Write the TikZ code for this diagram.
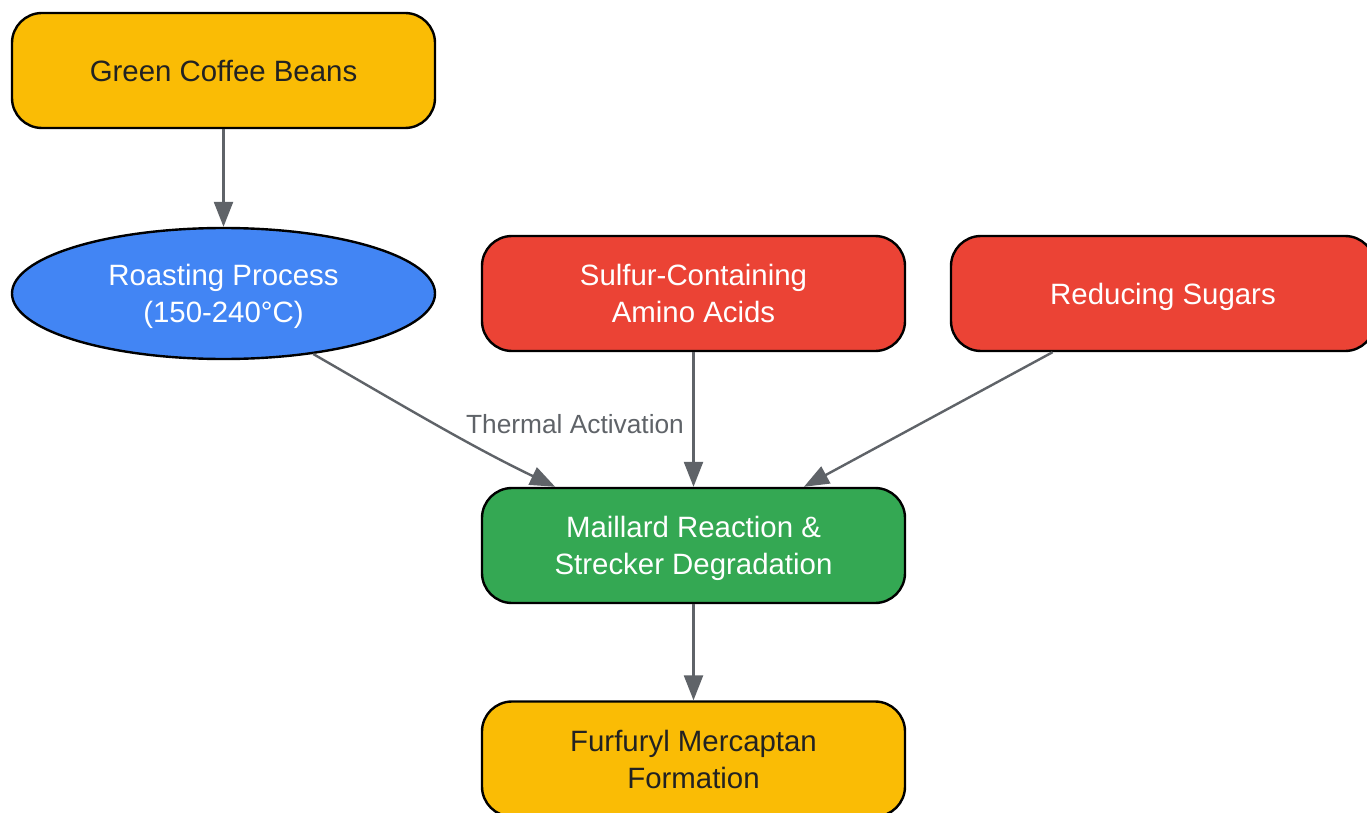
\documentclass[tikz,border=0pt]{standalone}
\usepackage{fontspec}
\setmainfont{Liberation Sans}
\usetikzlibrary{arrows.meta,shapes.geometric}
\definecolor{cyellow}{HTML}{FABC05}
\definecolor{cblue}{HTML}{4285F4}
\definecolor{cred}{HTML}{EB4335}
\definecolor{cgreen}{HTML}{34A853}
\definecolor{cedge}{HTML}{5F6368}
\definecolor{cdark}{HTML}{222222}
\tikzset{
  txt/.style={align=center, font=\fontsize{29.4}{37}\selectfont, inner sep=0pt},
  oneline/.style={text height=26pt, text depth=3.8pt},
  twoline/.style={text height=62pt, text depth=3.8pt},
  box/.style={txt, draw=black, line width=2.4pt, rounded corners=30pt,
    minimum width=423pt, minimum height=115pt},
  oval/.style={txt, draw=black, line width=2.4pt, ellipse,
    minimum width=423pt, minimum height=131pt},
  conn/.style={draw=cedge, line width=2.4pt, -{Triangle[length=25pt,width=19pt]}},
  lbl/.style={text=cedge, font=\fontsize{26.3}{30}\selectfont, inner sep=0pt}
}
\begin{document}
\begin{tikzpicture}[x=1pt,y=-1pt]
\useasboundingbox (0,0) rectangle (1367,813);
\clip (0,0) rectangle (1367,813);
\fill[white] (0,0) rectangle (1367,813);
\node[box, oneline, fill=cyellow, text=cdark] (green) at (223.5,70.5) {Green Coffee Beans};
\node[oval, twoline, fill=cblue, text=white] (roast) at (223.5,293.5) {Roasting Process\\(150-240°C)};
\node[box, twoline, fill=cred, text=white] (sulfur) at (693.5,293.5) {Sulfur-Containing\\Amino Acids};
\node[box, oneline, fill=cred, text=white, minimum width=424pt] (sugar) at (1163,293.5) {Reducing Sugars};
\node[box, twoline, fill=cgreen, text=white] (maill) at (693.5,545.5) {Maillard Reaction \&\\Strecker Degradation};
\node[box, twoline, fill=cyellow, text=cdark] (furf) at (693.5,759) {Furfuryl Mercaptan\\Formation};
\draw[conn] (green.south) -- (roast.north);
\draw[conn] (roast.-34) .. controls (400,404) and (470,446) .. (maill.157);
\node[lbl] (tlab) at (575,424) {Thermal Activation};
\draw[conn] (sulfur.south) -- (maill.north);
\draw[conn] (sugar.208.5) -- (maill.28);
\draw[conn] (maill.south) -- (furf.north);
\end{tikzpicture}
\end{document}
